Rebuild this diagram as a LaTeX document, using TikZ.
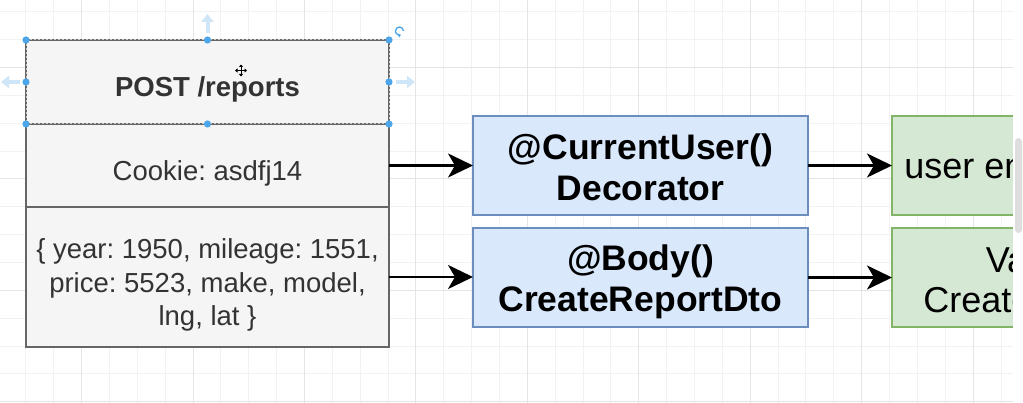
\documentclass[tikz,border=0pt]{standalone}
\usepackage{fontspec}
\setmainfont{Liberation Sans}
\usetikzlibrary{arrows.meta}
\definecolor{gridminor}{HTML}{F2F2F2}
\definecolor{gridmajor}{HTML}{E5E5E5}
\definecolor{cellfill}{HTML}{F5F5F5}
\definecolor{celldraw}{HTML}{666666}
\definecolor{celltext}{HTML}{333333}
\definecolor{bluefill}{HTML}{DAE8FC}
\definecolor{bluedraw}{HTML}{6C8EBF}
\definecolor{greenfill}{HTML}{D5E8D4}
\definecolor{greendraw}{HTML}{82B366}
\definecolor{handle}{HTML}{4DA6EA}
\definecolor{handlelight}{HTML}{CFE6F8}
\definecolor{scrollc}{HTML}{DEDEDE}
\begin{document}
\frenchspacing
\begin{tikzpicture}[x=1pt,y=-1pt,
  cell/.style={draw=celldraw, fill=cellfill, line width=2pt, inner sep=0pt, outer sep=0pt, minimum width=363pt},
  celllab/.style={text=celltext, inner sep=0pt, align=center, font=\fontsize{27.5pt}{33.5pt}\selectfont\frenchspacing},
  bluebox/.style={draw=bluedraw, fill=bluefill, line width=2pt, minimum width=335pt, minimum height=99pt,
    inner sep=0pt, outer sep=0pt},
  bluelab/.style={inner sep=0pt, align=center, font=\fontsize{35.5pt}{41pt}\selectfont\bfseries},
  greenbox/.style={draw=greendraw, fill=greenfill, line width=2pt, minimum width=335pt, minimum height=99pt,
    inner sep=0pt, outer sep=0pt},
  greenlab/.style={inner sep=0pt, align=center, font=\fontsize{36pt}{40pt}\selectfont},
  conn/.style={line width=2.6pt, -{Stealth[length=25pt,width=24pt,inset=7pt]}},
  seldot/.style={fill=handle, draw=none},
  handarrow/.style={handlelight, line width=4pt, -{Triangle[length=8pt,width=12pt]}}
]
\useasboundingbox (0,0) rectangle (1023,403);
\fill[white] (0,0) rectangle (1023,403);
% grid
\begin{scope}
\clip (0,0) rectangle (1013,403);
\foreach \k in {0,...,35} {\draw[gridminor, line width=0.8pt] ({25.8+\k*27.86},0) -- ({25.8+\k*27.86},403);}
\foreach \k in {0,...,14} {\draw[gridminor, line width=0.8pt] (0,{11.7+\k*27.86}) -- (1013,{11.7+\k*27.86});}
\foreach \k in {2,6,...,34} {\draw[gridmajor, line width=0.9pt] ({25.8+\k*27.86},0) -- ({25.8+\k*27.86},403);}
\foreach \k in {2,6,10,14} {\draw[gridmajor, line width=0.9pt] (0,{11.7+\k*27.86}) -- (1013,{11.7+\k*27.86});}
\end{scope}
% left table
\node[cell, minimum height=84pt] (post) at (207.5,82) {};
\node[cell, minimum height=83pt] (cookie) at (207.5,165.5) {};
\node[cell, minimum height=140pt] (body) at (207.5,277) {};
\node[celllab, yshift=-7pt] (posttxt) at (post) {\bfseries POST /reports};
\node[celllab, yshift=-7.5pt] (cookietxt) at (cookie) {Cookie: asdfj14};
\node[celllab, yshift=-8pt] (bodytxt) at (body) {\{ year: 1950, mileage: 1551,\\ price: 5523, make, model,\\ lng, lat \}};
% selection look of the top row
\draw[line width=1pt, white!65!celldraw, dash pattern=on 2pt off 2pt] (post.north west) rectangle (post.south east);
% blue boxes
\node[bluebox] (cu) at (640.5,165.5) {};
\node[bluebox] (bd) at (640.5,277.5) {};
\node[bluelab, yshift=-2pt] (cutxt) at (cu) {@CurrentUser()\\Decorator};
\node[bluelab, yshift=-4pt] (bdtxt) at (bd) {@Body()\\CreateReportDto};
% green boxes (cut at the right edge)
\begin{scope}
\clip (0,0) rectangle (1013,403);
\node[greenbox] (ue) at (1059.5,165.5) {};
\node[greenbox] (vd) at (1059.5,277.5) {};
\node[greenlab, yshift=-3.5pt] (uetxt) at (ue) {user entity instance};
\node[greenlab, yshift=-5.5pt] (vdtxt) at (vd) {Validated\\CreateReportDto};
\end{scope}
% connectors
\draw[conn] (cookie.east) -- (cookie.east -| cu.west);
\draw[conn] (body.east) -- (body.east -| bd.west);
\draw[conn] (cu.east) -- (ue.west);
\draw[conn] (bd.east) -- (vd.west);
% selection handles
\foreach \p in {(26,40),(207.5,40),(389,40),(26,82),(389,82),(26,124),(207.5,124),(389,124)} {\fill[seldot] \p circle (3.6pt);}
\draw[handarrow] (207.5,33) -- (207.5,14);
\draw[handarrow] (20,82) -- (1,82);
\draw[handarrow] (396,82) -- (415,82);
\draw[handle, line width=1.3pt, -{Triangle[length=2.5pt,width=4pt]}] (403.5,31) arc[start angle=0, end angle=290, radius=4pt];
% move cursor
\draw[black, line width=1pt, {Triangle[length=2.5pt,width=4pt]}-{Triangle[length=2.5pt,width=4pt]}] (235,70.5) -- (247,70.5);
\draw[black, line width=1pt, {Triangle[length=2.5pt,width=4pt]}-{Triangle[length=2.5pt,width=4pt]}] (241,64.5) -- (241,76.5);
% right margin and scroll bar
\fill[white] (1013,0) rectangle (1023,403);
\fill[scrollc, rounded corners=3.5pt] (1015,138) rectangle (1022,233);
\end{tikzpicture}
\end{document}
